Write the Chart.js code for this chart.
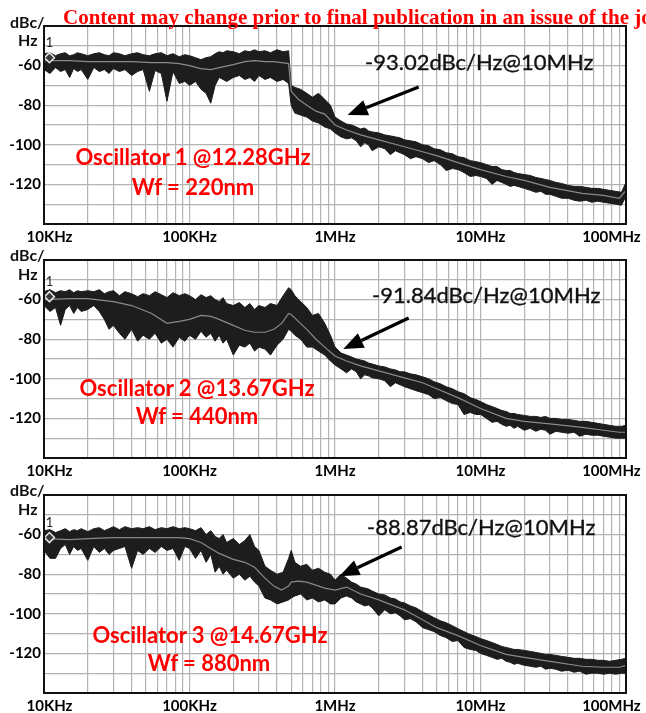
<!DOCTYPE html>
<html>
<head>
<meta charset="utf-8">
<script src="https://cdn.jsdelivr.net/npm/chart.js@4.4.1/dist/chart.umd.min.js"></script>
<style>
html, body { margin: 0; padding: 0; background: #fff; }
body { width: 646px; height: 713px; position: relative; overflow: hidden; font-family: Lato, "Open Sans", sans-serif; }
.panel { position: absolute; left: 0; width: 646px; height: 245px; }
.panel canvas { position: absolute; left: 0; top: 0; }
.t { position: absolute; white-space: nowrap; line-height: 1; }
.unit { font-weight: bold; font-size: 16px; color: #111; }
.note { font-size: 22px; color: #111; -webkit-text-stroke: 0.35px #111; }
.osc { font-weight: bold; font-size: 22px; color: #ff0000; transform: translateX(-50%); }
.hdr { position: absolute; left: 63px; top: 7px; line-height: 20px; white-space: nowrap;
       font-family: "Liberation Serif", "Times New Roman", serif; font-weight: bold; font-size: 21px; color: #ff0000; z-index: 5; }
</style>
</head>
<body>
<div class="hdr">Content may change prior to final publication in an issue of the journal.</div>

<div class="panel" id="p1" style="top:0px">
  <canvas id="c1" width="646" height="245"></canvas>
  <div class="t unit" style="left:10px;top:14px">dBc/</div>
  <div class="t unit" style="left:18px;top:32px">Hz</div>
  <div class="t note" style="left:365px;top:51px">-93.02dBc/Hz@10MHz</div>
  <div class="t osc" style="left:193px;top:146px">Oscillator 1 @12.28GHz</div>
  <div class="t osc" style="left:193px;top:176px">Wf = 220nm</div>
</div>

<div class="panel" id="p2" style="top:234px">
  <canvas id="c2" width="646" height="245"></canvas>
  <div class="t unit" style="left:10px;top:13px">dBc/</div>
  <div class="t unit" style="left:18px;top:32px">Hz</div>
  <div class="t note" style="left:372px;top:50px">-91.84dBc/Hz@10MHz</div>
  <div class="t osc" style="left:197px;top:143px">Oscillator 2 @13.67GHz</div>
  <div class="t osc" style="left:197px;top:171px">Wf = 440nm</div>
</div>

<div class="panel" id="p3" style="top:469px">
  <canvas id="c3" width="646" height="245"></canvas>
  <div class="t unit" style="left:10px;top:13px">dBc/</div>
  <div class="t unit" style="left:18px;top:32px">Hz</div>
  <div class="t note" style="left:367px;top:47px">-88.87dBc/Hz@10MHz</div>
  <div class="t osc" style="left:210px;top:155px">Oscillator 3 @14.67GHz</div>
  <div class="t osc" style="left:209px;top:183px">Wf = 880nm</div>
</div>

<script>
// offset frequency points (kHz) shared by the noisy envelopes
const freqKHz = [
  10, 11, 12, 13, 14, 15, 16, 17, 18, 20, 22, 24, 26, 28, 30, 33, 36, 40, 44, 48, 53, 58, 64, 70, 77, 85, 93,
  100, 110, 120, 130, 140, 150, 160, 170, 180, 200, 220, 240, 260, 280, 300, 330, 360, 400, 440, 480, 500, 530, 580, 640, 700, 770, 850, 930,
  1000, 1100, 1200, 1300, 1400, 1500, 1600, 1700, 1800, 2000, 2200, 2400, 2600, 2800, 3000, 3300, 3600, 4000, 4400, 4800, 5300, 5800, 6400, 7000, 7700, 8500, 9300,
  10000, 11000, 12000, 13000, 14000, 15000, 16000, 17000, 18000, 20000, 22000, 24000, 26000, 28000, 30000, 33000, 36000, 40000, 44000, 48000, 53000, 58000, 64000, 70000, 77000, 85000, 93000, 100000
];

// oscillator 1 (upper / lower edge of the trace, dBc/Hz)
const osc1Hi = [
  -54, -53.5, -55, -54, -53.5, -55, -54.5, -53.5, -54, -55, -54, -53.5, -54.5, -55, -53.5, -54, -55, -54, -53.5, -54.5, -55, -54, -53.5, -55, -54, -55.5, -54.5,
  -55, -56, -57, -56, -55.5, -54, -53, -53.5, -52.5, -53, -54, -52.5, -53, -52, -53, -52.5, -53.5, -52, -53, -52.5, -70, -71, -72, -74, -76, -74, -77, -80,
  -86, -88, -89.5, -90, -91, -92, -91.5, -93, -93.5, -94, -95, -95.5, -96, -96.5, -97.5, -98, -98.5, -100, -100.5, -102, -102.5, -104, -104.5, -106, -106.5, -108, -108.5,
  -109, -110, -111, -111, -112.5, -113, -113, -114, -114.5, -115, -115.5, -116.5, -117, -117.5, -118, -119, -119.5, -120.5, -121, -121, -121.5, -122, -122, -122.5, -123, -123.5, -124, -119
];
const osc1Lo = [
  -62, -64, -61, -63, -62, -66, -61.5, -63, -62, -67, -61, -63, -62, -64, -61.5, -63, -62, -65, -63, -62, -73, -62.5, -64, -78, -63, -69, -68,
  -70, -68, -72, -74, -79, -70, -66, -67, -68, -66, -65, -67, -66, -68, -65, -67, -66, -68, -67, -69, -80, -84, -85, -86, -88, -89, -91, -92,
  -94, -96, -97, -96.5, -98, -101, -99, -100, -103, -101, -102, -105, -103, -104, -105, -107, -106, -107, -109, -108, -110, -113, -112, -112.5, -114, -116, -115.5,
  -116, -117, -120, -118, -119, -120, -121, -120.5, -121, -122, -123, -124, -123.5, -125, -125, -126, -127, -127, -128, -128.5, -128, -129, -128.5, -129, -129.5, -130, -130.5, -126
];

// oscillator 2
const osc2Hi = [
  -56, -55, -56.5, -55.5, -56, -55, -56.5, -55.5, -56, -55.5, -56, -55, -57, -56, -55.5, -58, -56, -57, -58.5, -57, -58, -56, -57.5, -59, -56.5, -58, -57,
  -58, -60, -57.5, -59, -58, -60, -61, -59, -62, -63, -61.5, -64, -62, -65, -63, -64, -62, -63, -58, -54, -55, -58, -61, -64, -68, -67, -72, -78,
  -84, -87, -88, -89, -90, -90.5, -91, -92, -92.5, -93.5, -94, -95, -95.5, -96.5, -96.5, -97.5, -98, -99, -100, -101.5, -102.5, -104, -105, -106.5, -107.5, -109.5, -110.5,
  -111.5, -113, -114, -115, -116, -116.5, -117.5, -117.5, -118, -118.5, -119, -119, -119.5, -119, -120, -120, -120.5, -120.5, -121, -121.5, -121.5, -122, -122.5, -123, -123.5, -124, -124, -123.5
];
const osc2Lo = [
  -63, -66, -64, -73, -65, -63, -67, -64, -66, -65, -63, -66, -70, -75, -73, -77, -80, -75, -81, -78, -80, -77, -82, -80, -84, -79, -81,
  -78, -80, -76, -79, -77, -81, -78, -82, -80, -88, -83, -84, -82, -86, -84, -85, -88, -83, -80, -75, -76, -78, -80, -84, -84, -86, -88, -91,
  -93, -95, -97, -95, -96.5, -100, -98, -98.5, -99.5, -100, -101, -104, -102, -103, -104, -105, -106, -107, -108, -110, -109.5, -111, -112.5, -113, -118, -117, -118,
  -118, -120, -122, -121.5, -123, -124, -123.5, -125, -124, -126, -125, -126.5, -125.5, -126, -128, -126.5, -127, -127.5, -127, -129, -128, -128.5, -128.5, -129, -129.5, -130, -130, -130
];

// oscillator 3
const osc3Hi = [
  -58, -57.5, -59, -58, -57, -58.5, -57.5, -58, -57, -58.5, -57, -56.5, -58, -57, -56, -57.5, -56, -57, -56.5, -57, -56, -57.5, -56.5, -57, -56, -57, -56.5,
  -57, -58, -56.5, -60, -58, -61, -62, -60, -64, -62, -65, -63, -60, -66, -68, -76, -78, -80, -79, -72, -68, -74, -76, -75, -78, -77, -79, -80,
  -83, -80, -82, -84, -85, -86.5, -87, -87.5, -88.5, -90, -90.5, -92, -92.5, -94, -94.5, -96, -97, -99, -100.5, -102, -103.5, -104.5, -106, -107.5, -109, -110.5, -111.5,
  -112.5, -113.5, -114.5, -115.5, -116.5, -117, -117.5, -118, -118, -118.5, -119, -119.5, -120, -120.5, -120.5, -121, -121.5, -122, -122.5, -122.5, -123, -123, -123.5, -123.5, -124, -123.5, -123, -122.5
];
const osc3Lo = [
  -68, -72, -72, -67, -65, -70, -66, -68, -67, -73, -66, -69, -67, -70, -68, -67, -66, -77, -68, -70, -67, -69, -66, -68, -67, -73, -66,
  -67, -72, -68, -74, -70, -79, -76, -80, -78, -82, -80, -83, -81, -84, -86, -92, -93, -95, -94, -93, -92, -91, -90, -93, -92, -94, -93, -95,
  -95, -92, -91, -92, -94, -95, -96, -95.5, -97, -101, -98, -100, -99.5, -101, -103, -102.5, -104, -107, -108, -109, -111, -112, -114, -113.5, -117, -118, -118.5,
  -120, -121, -122, -123, -122.5, -124, -124.5, -125.5, -125, -126, -126.5, -127, -126.5, -128, -127.5, -128, -129, -128.5, -129.5, -129, -130.5, -130, -130, -130.5, -130, -130.5, -130, -130
];

// averaged (grey) trace
const avgKHz = [10, 15, 20, 30, 40, 55, 70, 85, 100, 120, 140, 160, 200, 240, 280, 330, 380, 430, 480, 500,
  560, 640, 740, 850, 1000, 1200, 1500, 2000, 3000, 4000, 5000, 7000, 10000, 15000, 20000, 30000, 50000, 70000, 90000, 100000];
const osc1Avg = [-57.5, -57.5, -58, -58, -58, -58.5, -58.5, -59, -60, -61.5, -62, -61, -59.5, -58, -57.5, -58, -58, -58.5, -59, -73,
  -77, -80, -83, -84.5, -90, -92.5, -95, -97.5, -101, -103.5, -105.5, -109, -112.5, -116, -118, -121.5, -124.5, -125.5, -127, -123];
const osc2Avg = [-60, -59.5, -59.5, -61, -63, -67, -72, -71, -70, -68, -68.5, -70, -73, -75.5, -76.5, -76.5, -75, -72, -67, -67.5,
  -71, -75, -80, -84, -88.5, -91, -93.5, -96, -99.5, -102, -105, -109.5, -115, -120, -121.5, -122.8, -124.5, -126, -127, -127];
const osc3Avg = [-62, -62.5, -62, -61.5, -61.5, -61.5, -61.5, -61.5, -62, -64, -67, -69.5, -72.5, -74, -76.5, -82, -86, -88, -86, -84,
  -83.5, -84, -85.5, -87, -88, -86.5, -90, -93, -98, -103, -107, -111, -116, -120.5, -122, -124, -126.5, -127, -127, -126];

// marker 1 and the arrows pointing at the trace
const markerKHz = 10.9;
const markerDb = [-56, -58.5, -61.5];
const arrowTipKHz = [1220, 1140, 1070];
const arrowTipDb = [-85, -85, -81];
const arrowTailKHz = [3760, 3210, 2870];
const arrowTailDb = [-70.8, -69.3, -66.3];

// axes
const xTickHz = [1e4, 1e5, 1e6, 1e7, 1e8];
const xTickLabels = ['10KHz', '100KHz', '1MHz', '10MHz', '100MHz'];
const yTickValues = [-60, -80, -100, -120];
const yTickLabels = ['-60', '-80', '-100', '-120'];

const gridHz = [];
for (let e = 4; e < 8; e++) for (let m = 1; m < 10; m++) gridHz.push(m * Math.pow(10, e));
gridHz.push(1e8);

function pts(xs, ys){ return xs.map((f, i) => ({ x: f * 1000, y: ys[i] })); }

const frame = {
  id: 'frame',
  afterDatasetsDraw(chart, args, o){
    const { ctx, chartArea: a, scales: { x, y } } = chart;
    ctx.save();
    ctx.strokeStyle = '#111'; ctx.lineWidth = 2;
    ctx.strokeRect(a.left, a.top, a.right - a.left, a.bottom - a.top);

    // arrow
    const x1 = x.getPixelForValue(arrowTailKHz[o.i] * 1000), y1 = y.getPixelForValue(arrowTailDb[o.i]);
    const x2 = x.getPixelForValue(arrowTipKHz[o.i] * 1000), y2 = y.getPixelForValue(arrowTipDb[o.i]);
    const ang = Math.atan2(y2 - y1, x2 - x1);
    const head = 20, half = 8;
    const bx = x2 - head * Math.cos(ang), by = y2 - head * Math.sin(ang);
    ctx.strokeStyle = '#000'; ctx.lineWidth = 3.2;
    ctx.beginPath(); ctx.moveTo(x1, y1); ctx.lineTo(bx, by); ctx.stroke();
    ctx.fillStyle = '#000';
    ctx.beginPath();
    ctx.moveTo(x2, y2);
    ctx.lineTo(bx + half * Math.sin(ang), by - half * Math.cos(ang));
    ctx.lineTo(bx - half * Math.sin(ang), by + half * Math.cos(ang));
    ctx.closePath(); ctx.fill();

    // "1" above the marker
    const m = chart.getDatasetMeta(3).data[0];
    ctx.fillStyle = '#222'; ctx.font = '13px Lato'; ctx.textAlign = 'center';
    ctx.fillText('1', m.x, m.y - 11);
    ctx.restore();
  }
};

function xLabel(v){
  const k = xTickHz.indexOf(v);
  if (k < 0) return '';
  if (k === 0) return '   ' + xTickLabels[k];
  if (k === xTickHz.length - 1) return xTickLabels[k] + '        ';
  return xTickLabels[k];
}
function yLabel(v){
  const k = yTickValues.indexOf(v);
  return k < 0 ? '' : yTickLabels[k];
}

function makeChart(id, hi, lo, avg, i){
  const tickFont = { family: 'Lato', weight: 'bold', size: 15 };
  return new Chart(document.getElementById(id), {
    type: 'line',
    data: { datasets: [
      { data: pts(freqKHz, hi), borderColor: '#1b1b1b', borderWidth: 1, pointRadius: 0, fill: false, order: 2 },
      { data: pts(freqKHz, lo), borderColor: '#1b1b1b', borderWidth: 1, pointRadius: 0, fill: '-1', backgroundColor: '#1d1d1d', order: 2 },
      { data: pts(avgKHz, avg), borderColor: '#8a8a8a', borderWidth: 1.2, pointRadius: 0, fill: false, order: 1 },
      { data: [{ x: markerKHz * 1000, y: markerDb[i] }], showLine: false, pointStyle: 'rectRot', pointRadius: 5,
        pointBackgroundColor: '#3a3a3a', pointBorderColor: '#e6e6e6', pointBorderWidth: 1.5, order: 0 }
    ]},
    options: {
      responsive: false, animation: false, events: [],
      layout: { padding: { top: 26, left: 0, right: 20, bottom: 0 } },
      plugins: { legend: { display: false }, tooltip: { enabled: false }, frame: { i } },
      scales: {
        x: {
          type: 'logarithmic', min: 1e4, max: 1e8,
          afterBuildTicks: s => { s.ticks = gridHz.map(v => ({ value: v })); },
          afterFit: s => { s.height = 21; s.paddingLeft = 0; s.paddingRight = 0; },
          grid: { color: '#b3b3b3', lineWidth: 1.2, drawTicks: false },
          border: { color: '#111', width: 2 },
          ticks: { autoSkip: false, maxRotation: 0, padding: 4, color: '#000', font: tickFont, callback: v => xLabel(v) }
        },
        y: {
          min: -140, max: -40,
          afterFit: s => { s.width = 44; s.paddingTop = 0; s.paddingBottom = 0; },
          grid: { color: '#b3b3b3', lineWidth: 1.2, drawTicks: false },
          border: { color: '#111', width: 2 },
          ticks: { stepSize: 10, autoSkip: false, padding: 3, color: '#000', font: tickFont, callback: v => yLabel(v) }
        }
      }
    },
    plugins: [frame]
  });
}

makeChart('c1', osc1Hi, osc1Lo, osc1Avg, 0);
makeChart('c2', osc2Hi, osc2Lo, osc2Avg, 1);
makeChart('c3', osc3Hi, osc3Lo, osc3Avg, 2);
</script>
</body>
</html>
